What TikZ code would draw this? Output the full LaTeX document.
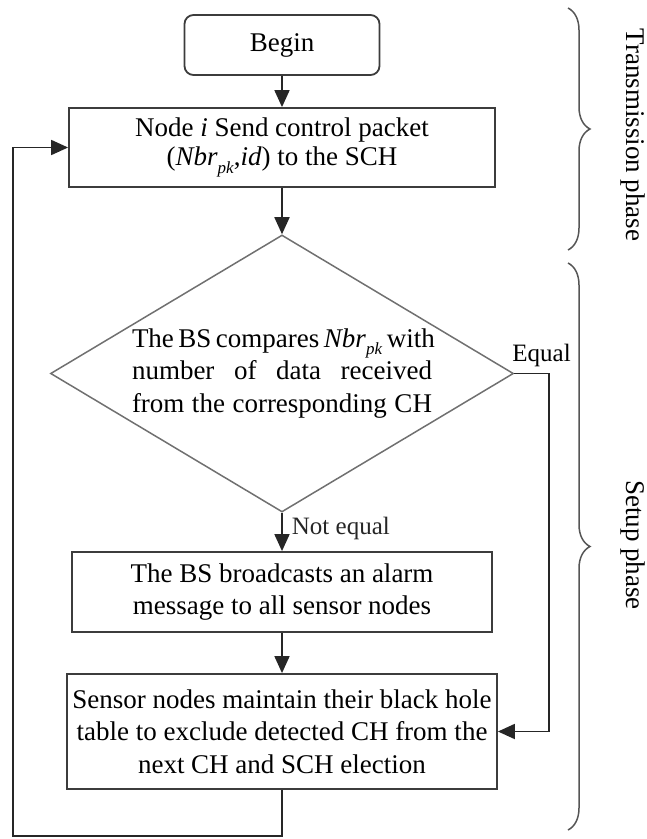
\documentclass[tikz,border=0pt]{standalone}
\usepackage{fontspec}
\setmainfont{Liberation Serif}
\usetikzlibrary{shapes.geometric,arrows.meta,decorations.pathreplacing}

\definecolor{boxline}{HTML}{3C3C3C}
\definecolor{diamline}{HTML}{707070}
\definecolor{braceline}{HTML}{555555}
\newcommand{\nbrpk}{\textit{Nbr}\raisebox{-0.6ex}{\fontsize{17}{17}\selectfont\textit{pk}}}
\newcommand{\fullline}[1]{\makebox[300pt][s]{#1}}

\begin{document}
\begin{tikzpicture}[x=1pt, y=-1pt,
    every node/.style={font=\fontsize{27}{32.5}\selectfont},
    stepbox/.style={draw=boxline, line width=1.8pt, align=center, inner sep=0pt},
    startbox/.style={stepbox, rounded corners=9pt},
    decision/.style={shape=diamond, draw=diamline, line width=1.5pt, inner sep=0pt},
    arr/.style={-{Triangle[length=17pt,width=15pt]}, line width=1.8pt, black!85},
    phasebrace/.style={decorate, decoration={brace, amplitude=22pt}, draw=braceline, line width=1.5pt},
    lbl/.style={font=\fontsize{25}{30}\selectfont, inner sep=1pt}]
    \useasboundingbox (0,0) rectangle (647,839);

    % Steps
    \node[startbox, minimum width=195pt, minimum height=60pt] (begin) at (282,45) {Begin};
    \node[stepbox, minimum width=426pt, minimum height=79pt,
          font=\fontsize{27}{29}\selectfont] (send) at (282,147.5)
        {Node \textit{i} Send control packet\\(\nbrpk,\textit{id}) to the SCH};
    \node[decision, minimum width=463pt, minimum height=277pt] (cmp) at (282,373.5) {};
    \node[align=center, inner sep=0pt] (cmptext) at (cmp)
        {\fullline{The BS compares \nbrpk{} with}\\\fullline{number of data received}\\\fullline{from the corresponding CH}};
    \node[stepbox, minimum width=420pt, minimum height=80pt] (alarm) at (282,592)
        {The BS broadcasts an alarm\\message to all sensor nodes};
    \node[stepbox, minimum width=430pt, minimum height=115pt] (clear) at (282,731.5)
        {Sensor nodes maintain their black hole\\table to exclude detected CH from the\\next CH and SCH election};

    % Connectors
    \draw[arr] (begin) -- (send);
    \draw[arr] (send) -- (cmp);
    \draw[arr] (cmp) -- node[lbl, right, pos=0.4, xshift=8pt] (neq) {Not equal} (alarm);
    \draw[arr] (alarm) -- (clear);
    \draw[arr] (cmp.east) -- ++(35,0) |- (clear.east);
    \node[lbl, anchor=south west, xshift=-3pt, yshift=5pt] (eq) at (cmp.east) {Equal};

    % Loop back
    \coordinate (loopcorner) at (13,836);
    \draw[arr] (clear.south) |- (loopcorner) |- (send.west);

    % Phases
    \draw[phasebrace] (568,8) -- (568,250);
    \draw[phasebrace] (568,263) -- (568,830);
    \node[rotate=-90] (trans) at (633,135) {Transmission phase};
    \node[rotate=-90] (setup) at (633,545) {Setup phase};
\end{tikzpicture}
\end{document}
